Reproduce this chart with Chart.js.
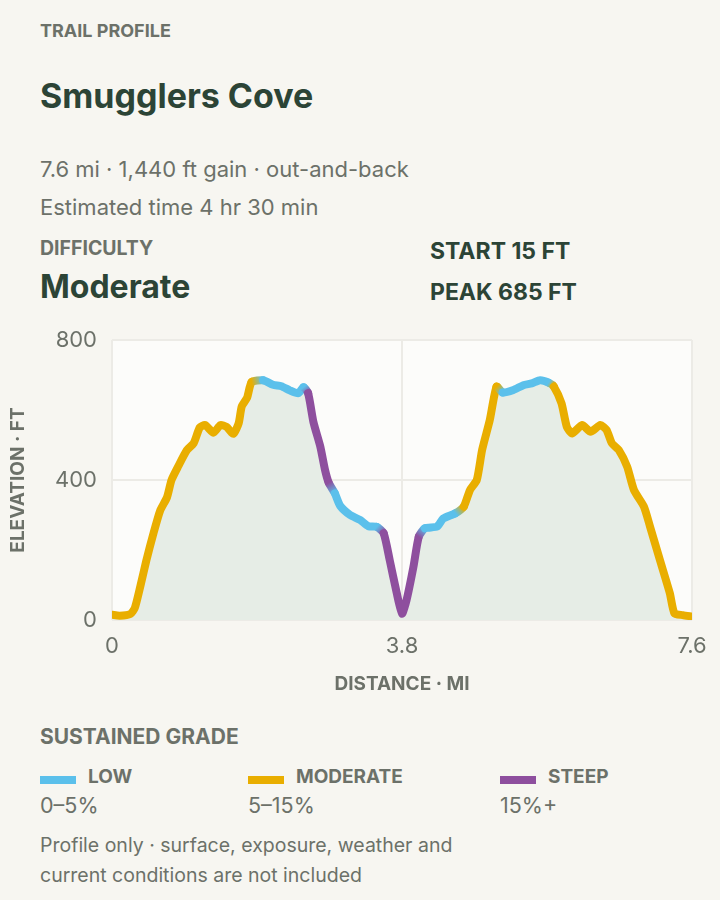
<!DOCTYPE html>
<html>
<head>
<meta charset="utf-8">
<script src="https://cdn.jsdelivr.net/npm/chart.js@4/dist/chart.umd.min.js"></script>
<style>
  html, body { margin: 0; padding: 0; background: #f7f6f1; }
  body { width: 720px; height: 900px; position: relative; overflow: hidden; font-family: Inter, "Noto Sans", sans-serif; }
  .t { position: absolute; white-space: nowrap; }
  .eyebrow { font-weight: 700; font-size: 18px; line-height: 22px; color: #6c7169; }
  .eyebrow2 { font-weight: 700; font-size: 19.5px; line-height: 24px; color: #6c7169; }
  .title { font-weight: 700; font-size: 34px; line-height: 40px; color: #2c4436; }
  .meta { font-weight: 400; font-size: 22px; line-height: 26px; color: #6c7169; }
  .rng { font-weight: 400; font-size: 21.5px; line-height: 26px; color: #6c7169; }
  .foot { font-weight: 400; font-size: 19.5px; line-height: 30px; color: #6c7169; }
  .big { font-weight: 700; font-size: 32px; line-height: 38px; color: #2c4436; }
  .stat { font-weight: 700; font-size: 23px; line-height: 28px; color: #2c4436; }
  .sec { font-weight: 700; font-size: 21px; line-height: 26px; color: #6c7169; }
  .lab { font-weight: 700; font-size: 19px; line-height: 24px; color: #6c7169; }
  .sw { position: absolute; width: 36px; height: 8px; }
  #chartBox { position: absolute; left: 0; top: 325px; width: 720px; height: 375px; }
</style>
</head>
<body>
<div class="t eyebrow" style="left:40px;top:19.5px;">TRAIL PROFILE</div>
<div class="t title" style="left:40px;top:76px;">Smugglers Cove</div>
<div class="t meta" style="left:40px;top:156px;">7.6 mi · 1,440 ft gain · out-and-back</div>
<div class="t meta" style="left:40px;top:194px;">Estimated time 4 hr 30 min</div>
<div class="t eyebrow2" style="left:40px;top:235.5px;">DIFFICULTY</div>
<div class="t big" style="left:40px;top:268px;">Moderate</div>
<div class="t stat" style="left:430px;top:236.5px;">START 15 FT</div>
<div class="t stat" style="left:430px;top:277.5px;">PEAK 685 FT</div>

<div id="chartBox"><canvas id="c" width="720" height="375"></canvas></div>

<div class="t sec" style="left:40px;top:724px;">SUSTAINED GRADE</div>
<div id="legend"></div>
<div class="t foot" style="left:40px;top:830px;">Profile only · surface, exposure, weather and</div>
<div class="t foot" style="left:40px;top:860px;">current conditions are not included</div>

<script>
// ---- data ----
const distances = [
  0.00, 0.10, 0.24, 0.30, 0.37, 0.45, 0.54, 0.63, 0.72, 0.78,
  0.87, 0.98, 1.07, 1.15, 1.22, 1.33, 1.42, 1.50, 1.59, 1.66,
  1.70, 1.77, 1.83, 1.98, 2.11, 2.22, 2.33, 2.44, 2.51, 2.57,
  2.64, 2.73, 2.79, 2.84, 2.92, 2.99, 3.12, 3.25, 3.36, 3.47,
  3.56, 3.64, 3.73, 3.80,
  3.86, 3.95, 4.02, 4.10, 4.26, 4.34, 4.50, 4.61, 4.69, 4.78,
  4.85, 4.95, 5.04, 5.12, 5.26, 5.39, 5.50, 5.61, 5.72, 5.79,
  5.89, 5.96, 6.03, 6.16, 6.27, 6.40, 6.48, 6.55, 6.64, 6.75,
  6.84, 6.97, 7.05, 7.18, 7.31, 7.37, 7.48, 7.60
];
const elevations = [
  15, 12, 17, 35, 95, 170, 245, 312, 350, 400,
  440, 485, 505, 550, 557, 535, 557, 552, 532, 562,
  610, 635, 680, 685, 672, 668, 656, 648, 665, 648,
  565, 495, 430, 392, 362, 326, 300, 286, 268, 266,
  248, 170, 78, 18,
  57, 152, 238, 262, 267, 290, 305, 324, 371, 400,
  486, 571, 667, 650, 657, 671, 676, 685, 678, 667,
  619, 552, 533, 557, 538, 557, 543, 505, 486, 438,
  371, 324, 267, 171, 76, 19, 14, 10
];
// grade class of each segment (from point i to point i+1)
const segmentGrades = [
  'M','M','M','M','M','M','M','M','M','M','M','M','M','M','M','M','M','M','M','M','M','M',
  'L','L','L','L','L','L',
  'S','S','S','S','S',
  'L','L','L','L','L','L',
  'S','S','S','S','S','S','S',
  'L','L','L','L',
  'M','M','M','M','M','M',
  'L','L','L','L','L','L',
  'M','M','M','M','M','M','M','M','M','M','M','M','M','M','M','M','M','M','M'
];
const gradeKeys = ['L', 'M', 'S'];
const gradeNames = ['LOW', 'MODERATE', 'STEEP'];
const gradeRanges = ['0–5%', '5–15%', '15%+'];
const gradeColors = { L: '#5bc0eb', M: '#e9ae00', S: '#8e4f9e' };
const xTickValues = [0, 3.8, 7.6];
const yTickValues = [0, 400, 800];

// ---- legend ----
const legendX = [40, 248, 500];
const legendEl = document.getElementById('legend');
gradeKeys.forEach((k, i) => {
  const sw = document.createElement('div');
  sw.className = 'sw';
  sw.style.left = legendX[i] + 'px';
  sw.style.top = '776px';
  sw.style.background = gradeColors[k];
  legendEl.appendChild(sw);
  const lab = document.createElement('div');
  lab.className = 't lab';
  lab.style.left = (legendX[i] + 48) + 'px';
  lab.style.top = '764.5px';
  lab.textContent = gradeNames[i];
  legendEl.appendChild(lab);
  const rng = document.createElement('div');
  rng.className = 't rng';
  rng.style.left = legendX[i] + 'px';
  rng.style.top = '791.5px';
  rng.textContent = gradeRanges[i];
  legendEl.appendChild(rng);
});

// ---- chart ----
const tickColor = '#6c7169';
const gridColor = '#ecebe6';

const areaBg = {
  id: 'areaBg',
  beforeDraw(chart) {
    const { ctx, chartArea: a } = chart;
    ctx.save();
    ctx.fillStyle = '#fcfcfa';
    ctx.fillRect(a.left, a.top, a.right - a.left, a.bottom - a.top);
    ctx.restore();
  }
};

const points = distances.map((d, i) => ({ x: d, y: elevations[i] }));

new Chart(document.getElementById('c'), {
  type: 'line',
  data: {
    datasets: [{
      // graded profile line
      data: points,
      borderWidth: 8,
      borderCapStyle: 'round',
      borderJoinStyle: 'round',
      borderColor: gradeColors.M,
      fill: false,
      pointRadius: 0,
      pointHoverRadius: 0,
      tension: 0.2,
      segment: {
        borderColor: (ctx) => {
          const i = ctx.p0DataIndex;
          const g = segmentGrades[i];
          const prev = i > 0 ? segmentGrades[i - 1] : g;
          if (prev === g) return gradeColors[g];
          const c = ctx.chart.ctx;
          const grad = c.createLinearGradient(ctx.p0.x, ctx.p0.y, ctx.p1.x, ctx.p1.y);
          grad.addColorStop(0, gradeColors[prev]);
          grad.addColorStop(1, gradeColors[g]);
          return grad;
        }
      }
    }, {
      // area under the profile
      data: points,
      borderWidth: 0,
      borderColor: 'rgba(0,0,0,0)',
      backgroundColor: '#e6ede6',
      fill: 'origin',
      pointRadius: 0,
      pointHoverRadius: 0,
      tension: 0.2
    }]
  },
  options: {
    responsive: false,
    animation: false,
    events: [],
    layout: { padding: { top: 0, right: 28, left: 0, bottom: 0 } },
    plugins: { legend: { display: false }, tooltip: { enabled: false } },
    scales: {
      x: {
        type: 'linear',
        min: 0,
        max: 7.6,
        afterBuildTicks: (s) => { s.ticks = xTickValues.map(v => ({ value: v })); },
        afterFit: (s) => { s.height = 80; },
        grid: { color: gridColor, lineWidth: 2, drawTicks: false },
        border: { display: false },
        ticks: {
          color: tickColor,
          font: { family: 'Inter', size: 22 },
          padding: 13,
          maxRotation: 0,
          autoSkip: false,
          callback: (v) => String(v)
        },
        title: {
          display: true,
          text: 'DISTANCE · MI',
          color: tickColor,
          font: { family: 'Inter', size: 19, weight: 'bold' },
          padding: { top: 0, bottom: 4.6 }
        }
      },
      y: {
        min: 0,
        max: 800,
        afterBuildTicks: (s) => { s.ticks = yTickValues.map(v => ({ value: v })); },
        afterFit: (s) => { s.width = 112; s.paddingTop = 15; s.paddingBottom = 0; },
        grid: { color: gridColor, lineWidth: 2, drawTicks: false },
        border: { display: false },
        ticks: {
          color: tickColor,
          font: { family: 'Inter', size: 22 },
          padding: 15,
          callback: (v) => String(v)
        },
        title: {
          display: true,
          text: 'ELEVATION · FT',
          color: tickColor,
          font: { family: 'Inter', size: 19, weight: 'bold' },
          padding: { top: 7, bottom: 0 }
        }
      }
    }
  },
  plugins: [areaBg]
});
</script>
</body>
</html>
